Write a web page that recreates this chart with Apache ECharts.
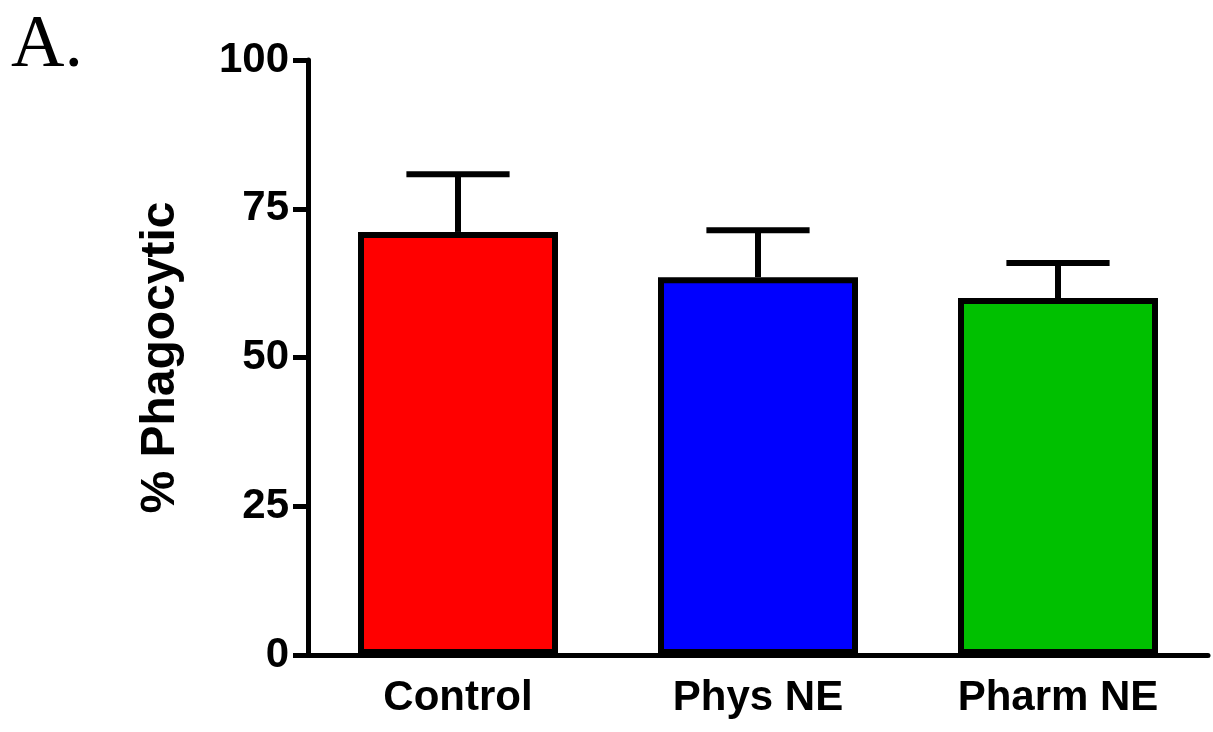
<!DOCTYPE html>
<html>
<head>
<meta charset="utf-8">
<script src="https://cdn.jsdelivr.net/npm/echarts@6/dist/echarts.min.js"></script>
<style>
    html, body { margin: 0; padding: 0; background: #fff; }
    #chart { width: 1213px; height: 732px; }
</style>
</head>
<body>
<div id="chart"></div>
<script>
// values
var categories = ['Control', 'Phys NE', 'Pharm NE'];
var means = [71.1, 63.5, 60.0];
var errors = [9.7, 7.9, 5.9];
var barColors = ['#ff0000', '#0000ff', '#00c000'];
var yTicks = [0, 25, 50, 75, 100];

var chart = echarts.init(document.getElementById('chart'));

var option = {
    backgroundColor: '#fff',
    animation: false,
    graphic: [{
        type: 'text',
        left: 11,
        top: 10,
        style: {
            text: 'A.',
            font: '74px "Liberation Serif", "Times New Roman", serif',
            fill: '#000'
        }
    }],
    grid: {
        left: 308,
        right: 5,
        top: 60,
        bottom: 77
    },
    xAxis: {
        type: 'category',
        data: categories,
        axisLine: { lineStyle: { color: '#000', width: 5 } },
        axisTick: { show: false },
        axisLabel: {
            color: '#000',
            fontFamily: '"Liberation Sans", Arial, sans-serif',
            fontWeight: 'bold',
            fontSize: 42,
            margin: 22
        }
    },
    yAxis: {
        type: 'value',
        min: yTicks[0],
        max: yTicks[yTicks.length - 1],
        interval: 25,
        name: '% Phagocytic',
        nameLocation: 'middle',
        nameGap: 123,
        nameTextStyle: {
            color: '#000',
            fontFamily: '"Liberation Sans", Arial, sans-serif',
            fontWeight: 'bold',
            fontSize: 48
        },
        axisLine: { show: true, lineStyle: { color: '#000', width: 5 } },
        axisTick: { show: true, length: 15, lineStyle: { color: '#000', width: 5 } },
        splitLine: { show: false },
        axisLabel: {
            color: '#000',
            fontFamily: '"Liberation Sans", Arial, sans-serif',
            fontWeight: 'bold',
            fontSize: 42,
            margin: 19
        }
    },
    series: [{
        type: 'bar',
        barWidth: 200,
        data: means.map(function (v, i) {
            return {
                value: v,
                itemStyle: { color: barColors[i] }
            };
        }),
        itemStyle: { borderColor: '#000', borderWidth: 6 },
        z: 2
    }, {
        // error bars (mean + SEM)
        type: 'custom',
        data: means.map(function (v, i) { return [i, v, v + errors[i]]; }),
        renderItem: function (params, api) {
            var base = api.coord([api.value(0), api.value(1)]);
            var top = api.coord([api.value(0), api.value(2)]);
            var half = api.size([1, 0])[0] * 0.172;
            var style = { stroke: '#000', lineWidth: 6 };
            return {
                type: 'group',
                children: [{
                    type: 'line',
                    shape: { x1: base[0], y1: base[1], x2: top[0], y2: top[1] },
                    style: style
                }, {
                    type: 'line',
                    shape: { x1: top[0] - half, y1: top[1], x2: top[0] + half, y2: top[1] },
                    style: style
                }]
            };
        },
        z: 1
    }]
};

chart.setOption(option);
</script>
</body>
</html>
